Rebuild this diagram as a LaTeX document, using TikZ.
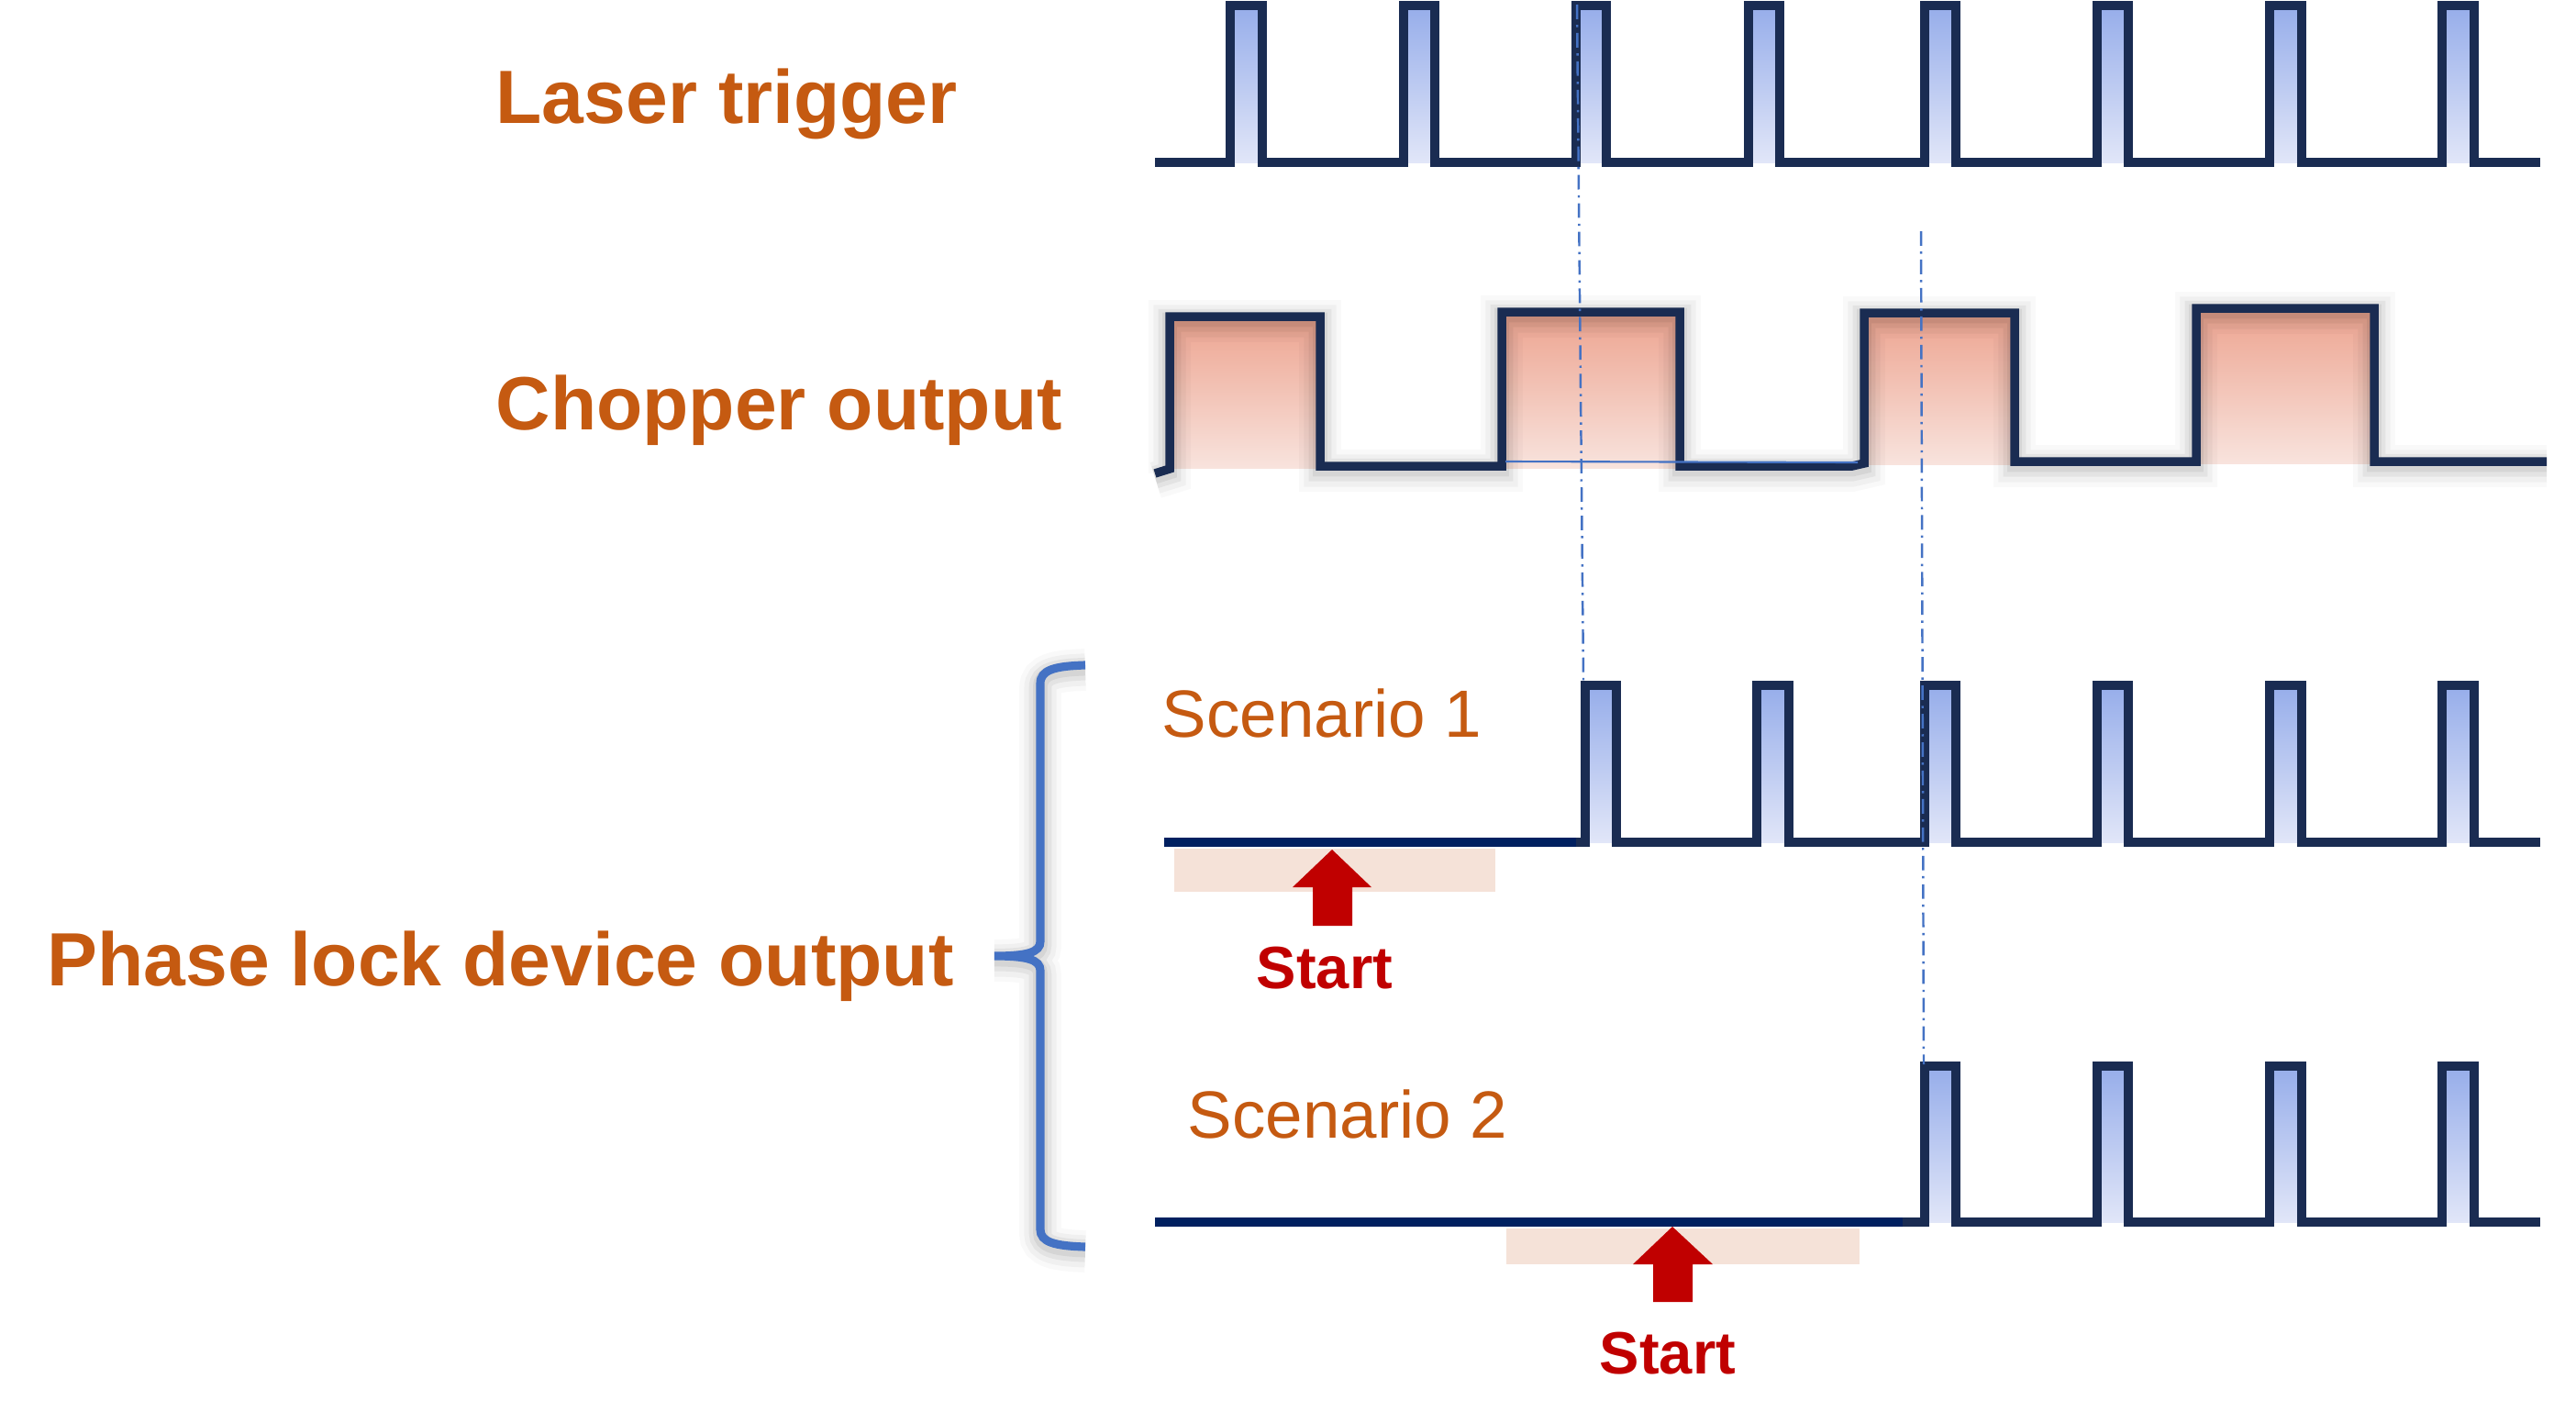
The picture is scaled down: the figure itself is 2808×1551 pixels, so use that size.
\documentclass[tikz,border=0pt]{standalone}
\usepackage{fontspec}
\setmainfont{Liberation Sans}
\definecolor{navy}{HTML}{1A2C52}
\definecolor{dblue}{HTML}{002060}
\definecolor{lblue}{HTML}{4472C4}
\definecolor{orng}{HTML}{C55A11}
\definecolor{dred}{HTML}{C00000}
\definecolor{peach}{HTML}{F5E2D8}
\definecolor{ptop}{HTML}{96ADEA}
\definecolor{pbot}{HTML}{E1E6F8}
\definecolor{ctop}{HTML}{EDA490}
\definecolor{cbot}{HTML}{F8E3DD}
\tikzset{
  wave/.style={draw=navy, line width=2.7pt, line join=miter, line cap=butt},
  flat/.style={draw=dblue, line width=2.7pt},
  softshadow/.style={
    preaction={draw=black, draw opacity=0.025, line width=13pt, transform canvas={yshift=-1.4pt}},
    preaction={draw=black, draw opacity=0.035, line width=10pt, transform canvas={yshift=-1.4pt}},
    preaction={draw=black, draw opacity=0.05, line width=7pt, transform canvas={yshift=-1.2pt}},
    preaction={draw=black, draw opacity=0.06, line width=4.5pt, transform canvas={yshift=-1pt}}},
  lbl/.style={text=orng, font=\bfseries\fontsize{23.4pt}{28pt}\selectfont, anchor=base west, inner sep=0pt},
  scn/.style={text=orng, font=\fontsize{20.7pt}{25pt}\selectfont, anchor=base west, inner sep=0pt},
  startlbl/.style={text=dred, font=\bfseries\fontsize{18.5pt}{22pt}\selectfont, anchor=base, inner sep=0pt},
  pfill/.style={top color=ptop, bottom color=pbot},
  cfill/.style={top color=ctop, bottom color=cbot},
  guide/.style={draw=lblue, line width=0.7pt, dash pattern=on 4.5pt off 1.8pt on 0.7pt off 1.8pt},
  brace/.style={draw=lblue, line width=2.6pt, line cap=butt},
  bigarrow/.style={fill=dred, draw=none}
}
\begin{document}
\begin{tikzpicture}[x=0.01cm,y=-0.01cm]
\useasboundingbox[fill=white] (0,0) rectangle (2808,1551);

% ---------------- labels ----------------
\node[lbl] (laser) at (540,134) {Laser trigger};
\node[lbl] (chopper) at (540,468) {Chopper output};
\node[lbl] (phase) at (51,1074) {Phase lock device output};
\node[scn] (s1) at (1266,803) {Scenario 1};
\node[scn] (s2) at (1294,1240) {Scenario 2};

% ---------------- laser trigger ----------------
\foreach \a/\b in {1341/1376,1530/1564,1718/1751,1906/1940,2098/2132,2286/2320,2474/2509,2662/2697}
  \shade[pfill] (\a,6) rectangle (\b,177);
\draw[wave] (1259,177)
  \foreach \a/\b in {1341/1376,1530/1564,1718/1751,1906/1940,2098/2132,2286/2320,2474/2509,2662/2697}
  { -- (\a,177) -- (\a,6) -- (\b,6) -- (\b,177) } -- (2769,177);

% ---------------- chopper output ----------------
\shade[cfill] (1275,345) rectangle (1439,510);
\shade[cfill] (1637,340) rectangle (1831,510);
\shade[cfill] (2032,341) rectangle (2196,506);
\shade[cfill] (2394,336) rectangle (2588,505);
\draw[wave, softshadow] (1259,516) -- (1275,511) -- (1275,345) -- (1439,345) -- (1439,508)
  -- (1637,508) -- (1637,340) -- (1831,340) -- (1831,508) -- (2019,508) -- (2032,505)
  -- (2032,341) -- (2196,341) -- (2196,503) -- (2394,503) -- (2394,336) -- (2588,336)
  -- (2588,503) -- (2776,503);
\coordinate (tl1) at (1641,503);
\coordinate (tl2) at (2025,504);
\draw[draw=lblue, line width=0.6pt] (tl1) -- (tl2);

% ---------------- brace ----------------
\draw[brace, softshadow] (1183,725) .. controls (1150,726) and (1134,730) .. (1134,745)
  -- (1134,1026) .. controls (1134,1038) and (1120,1042) .. (1084,1042)
  .. controls (1120,1042) and (1134,1046) .. (1134,1058)
  -- (1134,1340) .. controls (1134,1354) and (1150,1358) .. (1183,1359);

% ---------------- scenario 1 ----------------
\fill[peach] (1280,925) rectangle (1630,972);
\foreach \a/\b in {1728/1762,1915/1950,2098/2132,2286/2320,2474/2509,2662/2697}
  \shade[pfill] (\a,747) rectangle (\b,918);
\draw[flat] (1269,918) -- (1724,918);
\draw[wave] (1718,918)
  \foreach \a/\b in {1728/1762,1915/1950,2098/2132,2286/2320,2474/2509,2662/2697}
  { -- (\a,918) -- (\a,747) -- (\b,747) -- (\b,918) } -- (2769,918);
\fill[bigarrow] (1452,926) -- (1495,967) -- (1474,967) -- (1474,1009) -- (1431,1009) -- (1431,967) -- (1409,967) -- cycle;
\node[startlbl] (st1) at (1444,1077) {Start};

% ---------------- scenario 2 ----------------
\fill[peach] (1642,1339) rectangle (2027,1378);
\foreach \a/\b in {2098/2132,2286/2320,2474/2509,2662/2697}
  \shade[pfill] (\a,1162) rectangle (\b,1332);
\draw[wave] (2040,1332)
  \foreach \a/\b in {2098/2132,2286/2320,2474/2509,2662/2697}
  { -- (\a,1332) -- (\a,1162) -- (\b,1162) -- (\b,1332) } -- (2769,1332);
\draw[flat] (1259,1332) -- (2074,1332);
\fill[bigarrow] (1823,1337) -- (1867,1378) -- (1845,1378) -- (1845,1419) -- (1802,1419) -- (1802,1378) -- (1780,1378) -- cycle;
\node[startlbl] (st2) at (1818,1497) {Start};

% ---------------- guide lines ----------------
\coordinate (g1a) at (1719,5);
\coordinate (g1b) at (1726,742);
\coordinate (g2a) at (2094,252);
\coordinate (g2b) at (2097,1160);
\draw[guide] (g1a) -- (g1b);
\draw[guide] (g2a) -- (g2b);
\end{tikzpicture}
\end{document}
